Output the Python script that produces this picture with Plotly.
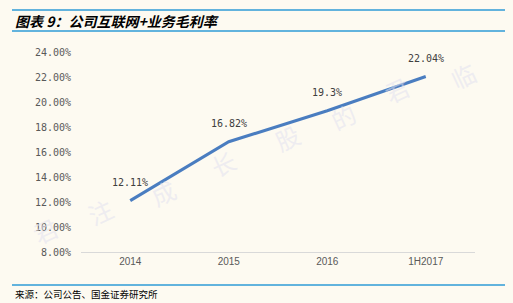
import plotly.graph_objects as go

categories = ["2014", "2015", "2016", "1H2017"]
margin_values = [12.11, 16.82, 19.3, 22.04]
label_texts = ["12.11%", "16.82%", "19.3%", "22.04%"]
y_ticks = [8, 10, 12, 14, 16, 18, 20, 22, 24]
y_tick_labels = ["%.2f%%" % v for v in y_ticks]

W, H = 513, 303
L, R, T, B = 81, 475, 52, 252
BG = "#FDFAF1"

def px(x):
    return (x - L) / (R - L)

def py(y):
    return (B - y) / (B - T)

fig = go.Figure()
fig.add_trace(go.Scatter(
    x=categories, y=margin_values, mode="lines",
    line=dict(color="#4A7DC0", width=3),
    hoverinfo="skip", showlegend=False,
))

shapes = [
    dict(type="line", xref="paper", yref="paper", x0=px(12), x1=px(505), y0=py(10), y1=py(10),
         line=dict(color="#2E9BD6", width=1.5)),
    dict(type="line", xref="paper", yref="paper", x0=px(12), x1=px(505), y0=py(31), y1=py(31),
         line=dict(color="#2E9BD6", width=1.5)),
    dict(type="line", xref="paper", yref="paper", x0=px(12), x1=px(505), y0=py(285), y1=py(285),
         line=dict(color="#2E9BD6", width=1.5)),
]

annotations = []
wm_chars = ["君", "注", "成", "长", "股", "的", "君", "临"]
wm_pos = [(45, 230), (100, 211), (163, 192), (223, 163), (287, 137), (343, 116), (397, 90), (463, 75)]
for ch, (x, y) in zip(wm_chars, wm_pos):
    annotations.append(dict(text=ch, xref="paper", yref="paper", x=px(x), y=py(y),
                            xanchor="center", yanchor="middle", showarrow=False, textangle=-25,
                            font=dict(family="Noto Sans CJK SC", size=24, color="rgba(225,225,240,0.55)")))

for i, (v, t) in enumerate(zip(margin_values, label_texts)):
    annotations.append(dict(x=i, y=v, xref="x", yref="y", text=t, showarrow=False, yshift=18,
                            xanchor="center", yanchor="middle",
                            font=dict(family="DejaVu Sans Mono", size=10, color="#404040")))

annotations += [
    dict(text="<b><i>图表 9：公司互联网+业务毛利率</i></b>", xref="paper", yref="paper",
         x=px(13), y=py(20.5), xanchor="left", yanchor="middle", showarrow=False,
         font=dict(family="Noto Sans CJK SC", size=14, color="#000000")),
    dict(text="来源：公司公告、国金证券研究所", xref="paper", yref="paper",
         x=px(13), y=py(294), xanchor="left", yanchor="middle", showarrow=False,
         font=dict(family="Noto Sans CJK SC", size=9.5, color="#000000")),
]

fig.update_layout(
    width=W, height=H,
    margin=dict(l=L, r=W - R, t=T, b=H - B),
    paper_bgcolor=BG, plot_bgcolor=BG,
    shapes=shapes, annotations=annotations,
    xaxis=dict(type="category", range=[-0.5, 3.5], showgrid=False, zeroline=False,
               showline=True, linecolor="#D9D9D9", linewidth=1, ticks="",
               tickfont=dict(family="Liberation Sans", size=10, color="#595959")),
    yaxis=dict(range=[8, 24], tickvals=y_ticks, ticktext=y_tick_labels, showgrid=False,
               zeroline=False, showline=False, ticks="", ticklabelstandoff=9,
               tickfont=dict(family="DejaVu Sans Mono", size=10, color="#595959")),
)

fig.write_html("out.html")
